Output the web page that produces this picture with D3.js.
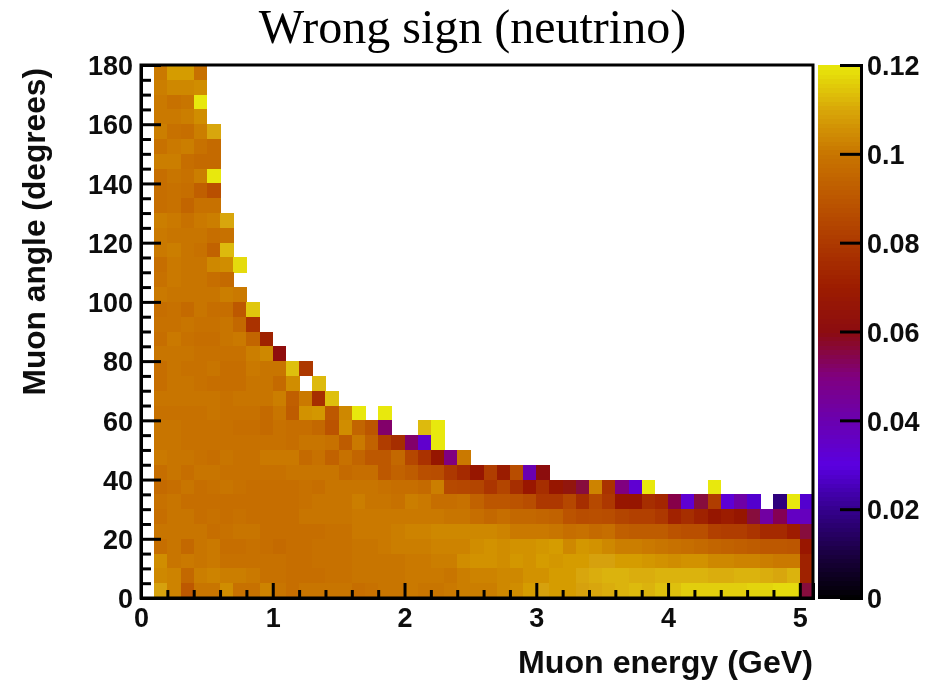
<!DOCTYPE html>
<html><head><meta charset="utf-8">
<script src="https://cdn.jsdelivr.net/npm/d3@7"></script>
<style>html,body{margin:0;padding:0;background:#fff}svg{display:block}</style>
</head><body><svg id="c" width="938" height="680"></svg>
<script>
const titleText = "Wrong sign (neutrino)";
const xLabel = "Muon energy (GeV)";
const yLabel = "Muon angle (degrees)";
const xMajorTicks = [0,1,2,3,4,5];
const yMajorTicks = [0,20,40,60,80,100,120,140,160,180];
const zTicks = [0,0.02,0.04,0.06,0.08,0.1,0.12];
const paletteStops = [0,0.01,0.02,0.03,0.04,0.05,0.06,0.07,0.08,0.09,0.1,0.11,0.12];
const paletteColors = ["#000000","#1a0040","#34008c","#5a00e0","#6a00b0","#800080","#8c0c10","#9c1c00","#ad3800","#bc5600","#c87400","#d8a608","#e8e80a"];
const energyStart = 0.1, energyStep = 0.1, angleStep = 5;
// each row: lower angle edge in name, values start at energy 0.1 GeV
const a175=[.101,.108,.108,.099];
const a170=[.102,.104,.104,.105];
const a165=[.101,.099,.100,.120];
const a160=[.101,.101,.102,.105];
const a155=[.102,.099,.098,.102,.110];
const a150=[.099,.101,.102,.099,.097];
const a145=[.102,.102,.098,.097,.097];
const a140=[.098,.100,.099,.102,.120];
const a135=[.098,.099,.098,.093,.088];
const a130=[.098,.099,.095,.099,.099];
const a125=[.102,.101,.099,.101,.102,.110];
const a120=[.101,.100,.100,.100,.098,.099];
const a115=[.101,.102,.100,.099,.094,.113];
const a110=[.098,.101,.100,.100,.104,.105,.118];
const a105=[.099,.101,.100,.100,.098,.097];
const a100=[.101,.100,.100,.100,.100,.102,.101];
const a95=[.098,.099,.097,.100,.098,.098,.091,.115];
const a90=[.099,.099,.100,.099,.099,.100,.096,.078];
const a85=[.098,.101,.099,.098,.098,.100,.101,.095,.072];
const a80=[.100,.100,.100,.099,.099,.099,.099,.102,.104,.062];
const a75=[.098,.100,.099,.099,.100,.098,.098,.101,.100,.100,.114,.080];
const a70=[.098,.100,.100,.099,.098,.098,.098,.100,.100,.097,.105,null,.113];
const a65=[.100,.100,.100,.100,.100,.099,.100,.100,.100,.102,.093,.101,.076,.114];
const a60=[.099,.099,.099,.099,.100,.099,.099,.099,.097,.100,.092,.106,.107,.091,.104,.120,null,.120];
const a55=[.100,.100,.099,.099,.099,.099,.098,.098,.097,.099,.098,.098,.096,.089,.105,.095,.090,.052,null,null,.113,.120];
const a50=[.100,.100,.099,.099,.099,.099,.099,.099,.099,.099,.098,.100,.100,.099,.092,.101,.094,.082,.076,.052,.034,.120];
const a45=[.101,.100,.100,.099,.098,.100,.099,.099,.101,.101,.101,.097,.099,.094,.099,.095,.091,.091,.096,.085,.078,.066,.050,.101];
const a40=[.098,.100,.098,.100,.100,.099,.099,.099,.099,.099,.100,.100,.100,.100,.097,.098,.098,.091,.094,.092,.088,.087,.080,.075,.067,.082,.069,.087,.040,.060];
const a35=[.097,.098,.100,.098,.099,.100,.099,.098,.098,.098,.098,.099,.098,.100,.100,.100,.100,.099,.098,.098,.097,.102,.086,.085,.084,.079,.084,.076,.068,.076,.067,.064,.056,.103,.078,.050,.033,.120,null,null,null,null,.120];
const a30=[.099,.100,.098,.098,.098,.098,.098,.098,.098,.098,.098,.099,.100,.100,.100,.102,.100,.100,.099,.102,.101,.098,.098,.099,.094,.090,.090,.089,.087,.080,.080,.085,.076,.086,.080,.067,.066,.076,.074,.055,.033,.056,.082,.032,.042,.028,null,.018,.120,.028];
const a25=[.098,.100,.100,.098,.099,.098,.099,.098,.098,.098,.098,.100,.100,.100,.100,.101,.101,.101,.101,.101,.101,.101,.100,.100,.098,.096,.098,.096,.096,.095,.094,.089,.087,.088,.087,.084,.083,.083,.080,.073,.076,.072,.066,.070,.066,.056,.043,.054,.036,.037];
const a20=[.100,.100,.100,.100,.098,.099,.100,.100,.098,.098,.098,.098,.098,.099,.099,.101,.101,.101,.102,.103,.103,.104,.104,.104,.104,.104,.103,.101,.101,.101,.100,.098,.099,.097,.098,.093,.092,.092,.092,.089,.088,.088,.083,.082,.082,.079,.075,.075,.071,.056];
const a15=[.098,.100,.096,.100,.101,.098,.098,.099,.098,.097,.098,.098,.099,.099,.099,.100,.100,.101,.102,.102,.102,.103,.103,.103,.105,.106,.105,.106,.106,.107,.108,.104,.107,.106,.104,.102,.102,.101,.100,.099,.098,.097,.095,.094,.093,.092,.091,.091,.090,.068];
const a10=[.105,.100,.101,.100,.101,.099,.099,.099,.099,.099,.098,.098,.099,.099,.099,.100,.100,.100,.100,.101,.101,.102,.102,.105,.106,.106,.105,.107,.106,.108,.107,.108,.108,.109,.109,.108,.108,.107,.106,.105,.106,.106,.104,.104,.103,.103,.102,.101,.101,.072];
const a5=[.104,.103,.096,.102,.103,.102,.102,.101,.099,.099,.098,.098,.098,.099,.099,.100,.100,.100,.100,.101,.101,.101,.100,.102,.103,.103,.104,.104,.106,.106,.108,.108,.110,.111,.112,.112,.111,.111,.112,.112,.112,.112,.111,.111,.112,.112,.111,.110,.112,.072];
const a0=[.109,.103,.091,.100,.100,.105,.099,.099,.103,.100,.098,.100,.100,.100,.100,.098,.099,.100,.100,.101,.100,.100,.101,.102,.102,.102,.104,.105,.108,.109,.108,.108,.109,.110,.111,.112,.113,.112,.114,.114,.116,.116,.116,.116,.116,.117,.117,.118,.118,.056];
const angleRows=[a175,a170,a165,a160,a155,a150,a145,a140,a135,a130,a125,a120,a115,a110,a105,a100,a95,a90,a85,a80,a75,a70,a65,a60,a55,a50,a45,a40,a35,a30,a25,a20,a15,a10,a5,a0];

const plot={l:141,r:813,t:65,b:598}, bar={l:817.5,r:861};
const svg=d3.select("#c");
const defs=svg.append("defs");
defs.append("filter").attr("id","soft").attr("filterUnits","userSpaceOnUse").attr("x",0).attr("y",0).attr("width",938).attr("height",680)
  .append("feGaussianBlur").attr("stdDeviation",0.7);
const x=d3.scaleLinear().domain([0,5.1]).range([plot.l,plot.r]);
const y=d3.scaleLinear().domain([0,180]).range([plot.b,plot.t]);
const z=d3.scaleLinear().domain([0,0.12]).range([plot.b,plot.t]);
const color=d3.scaleLinear().domain(paletteStops).range(paletteColors).clamp(true);

const cells=[];
angleRows.forEach((row,i)=>{const low=175-i*angleStep;row.forEach((v,j)=>{if(v!=null)cells.push({e:energyStart+j*energyStep,a:low,v});});});
svg.append("g").attr("filter","url(#soft)").attr("shape-rendering","crispEdges").selectAll("rect").data(cells).join("rect")
  .attr("x",d=>x(d.e)).attr("y",d=>y(d.a+angleStep))
  .attr("width",d=>x(d.e+energyStep)-x(d.e)+0.5).attr("height",d=>y(d.a)-y(d.a+angleStep)+0.5)
  .attr("fill",d=>color(d.v));

// colour bar
const bandStep=0.12/120;
const bands=d3.range(0,120).map(i=>i*bandStep);
svg.append("g").attr("shape-rendering","crispEdges").selectAll("rect").data(bands).join("rect")
  .attr("x",bar.l).attr("width",bar.r-bar.l)
  .attr("y",d=>z(d+bandStep)).attr("height",d=>z(d)-z(d+bandStep)+1)
  .attr("fill",d=>color(d+bandStep/2));

function style(g,fs){
  g.selectAll("text").attr("font-family","'Liberation Sans',Arial,sans-serif").attr("font-weight","700").attr("font-size",fs).attr("fill","#111");
  g.selectAll("line,path").attr("stroke","#000").attr("stroke-width",3);
}
const fmt=d=>String(d);
const blur=svg.append("g").attr("filter","url(#soft)");
// left axis
let g=blur.append("g").attr("transform",`translate(${plot.l},0)`).call(d3.axisLeft(y).tickValues(d3.range(0,181,5).filter(v=>v%20)).tickSize(-10).tickFormat(""));
style(g,27);
g=blur.append("g").attr("transform",`translate(${plot.l},0)`).call(d3.axisLeft(y).tickValues(yMajorTicks).tickSize(-20).tickPadding(8).tickFormat(fmt));
style(g,27);
g.selectAll("text").attr("dy","0.36em");
// bottom axis
g=blur.append("g").attr("transform",`translate(0,${plot.b})`).call(d3.axisBottom(x).tickValues(d3.range(0,26).map(v=>v/5).filter(v=>v%1)).tickSize(-8).tickFormat(""));
style(g,27);
g=blur.append("g").attr("transform",`translate(0,${plot.b})`).call(d3.axisBottom(x).tickValues(xMajorTicks).tickSize(-15).tickPadding(10).tickFormat(fmt));
style(g,27);
g.selectAll("text").attr("y",29).attr("dy",0);
// frame top & right
blur.append("path").attr("d",`M${plot.l},${plot.t}H${plot.r}V${plot.b}H${plot.l}Z`).attr("fill","none").attr("stroke","#000").attr("stroke-width",3);
// z axis
g=blur.append("g").attr("transform",`translate(${bar.r},0)`).call(d3.axisRight(z).tickValues(zTicks).tickSize(-21).tickPadding(6).tickFormat(d=>String(d)));
style(g,27);
g.selectAll("text").attr("dy","0.36em");
// labels
blur.append("text").attr("x",plot.r).attr("y",673).attr("text-anchor","end").attr("font-family","'Liberation Sans',Arial,sans-serif").attr("font-weight","700").attr("font-size",32.2).attr("fill","#111").text(xLabel);
blur.append("text").attr("transform",`translate(45,${plot.t+3}) rotate(-90)`).attr("text-anchor","end").attr("font-family","'Liberation Sans',Arial,sans-serif").attr("font-weight","700").attr("font-size",31.7).attr("fill","#111").text(yLabel);
svg.append("text").attr("x",472.5).attr("y",43).attr("text-anchor","middle").attr("font-family","'Liberation Serif',serif").attr("font-size",48).attr("fill","#000").text(titleText);
</script></body></html>
